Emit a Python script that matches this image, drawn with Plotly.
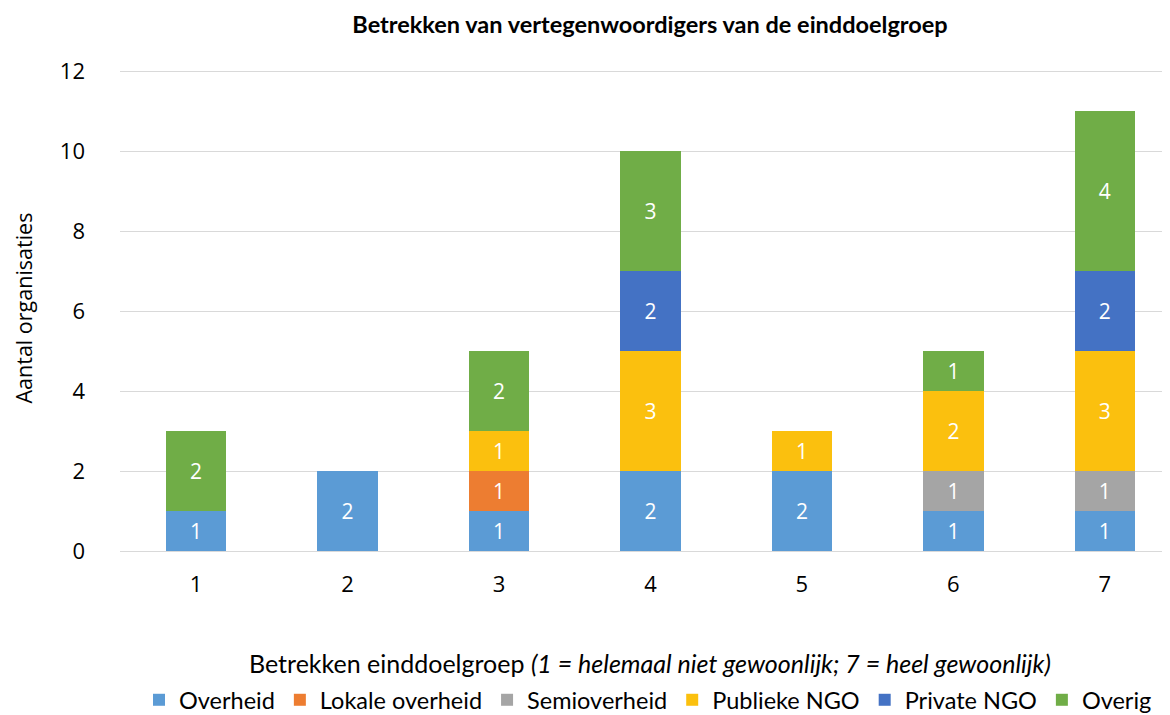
import plotly.graph_objects as go

categories = ["1", "2", "3", "4", "5", "6", "7"]
series_names = ["Overheid", "Lokale overheid", "Semioverheid", "Publieke NGO", "Private NGO", "Overig"]
overheid = [1, 2, 1, 2, 2, 1, 1]
lokale_overheid = [0, 0, 1, 0, 0, 0, 0]
semioverheid = [0, 0, 0, 0, 0, 1, 1]
publieke_ngo = [0, 0, 1, 3, 1, 2, 3]
private_ngo = [0, 0, 0, 2, 0, 0, 2]
overig = [2, 0, 2, 3, 0, 1, 4]
y_ticks = [0, 2, 4, 6, 8, 10, 12]

colors = ["#5B9BD5", "#ED7D31", "#A5A5A5", "#FBC00E", "#4472C4", "#70AD47"]
all_series = [overheid, lokale_overheid, semioverheid, publieke_ngo, private_ngo, overig]

NARROW = "Lato"
TICK = "Open Sans"

# page body has an 8px margin; work in reference pixel coordinates minus offset
OFF = 8
W, H = 1170 - OFF, 715 - OFF
L = 120 - OFF
T = 69 - OFF
B = H - (551 - OFF)
R = 0
pw = W - L - R
ph = H - T - B


def px_x(x):
    return (x - OFF - L) / pw


def px_y(y):
    return ((551 - OFF) - (y - OFF)) / ph


fig = go.Figure()
for name, vals, col in zip(series_names, all_series, colors):
    yv = [v if v else None for v in vals]
    fig.add_trace(go.Bar(
        x=categories, y=yv, name=name, marker=dict(color=col, line=dict(width=0)),
        text=[str(v) if v else "" for v in vals], textposition="inside",
        insidetextanchor="middle", textangle=0,
        textfont=dict(color="white", size=21, family=TICK),
        cliponaxis=False,
    ))

fig.update_layout(
    width=W, height=H, barmode="stack", bargap=0.6,
    plot_bgcolor="white", paper_bgcolor="white",
    margin=dict(l=L, r=R, t=T, b=B, autoexpand=False),
    font=dict(family=TICK, color="#000000", size=22),
    title=dict(text="<b>Betrekken van vertegenwoordigers van de einddoelgroep</b>",
               x=px_x(650), xref="paper", xanchor="center",
               y=1 - (25 - OFF) / H, yref="container", yanchor="middle",
               font=dict(family=NARROW, size=23.5, color="#000000")),
    xaxis=dict(type="category", range=[-0.5017, 6.43], showgrid=False, showline=False,
               ticks="", tickfont=dict(family=TICK, size=22, color="#000000"), ticklabelstandoff=18),
    yaxis=dict(range=[0, 12.05], tickvals=y_ticks, showgrid=True, gridcolor="#D9D9D9",
               gridwidth=1.3, zeroline=True, zerolinecolor="#D9D9D9", zerolinewidth=1.3,
               showline=False, ticks="", tickfont=dict(family=TICK, size=22, color="#000000"),
               ticklabelstandoff=34),
    legend=dict(orientation="h", x=px_x(648), xanchor="center", y=(715 - 700) / H, yref="container",
                yanchor="middle", font=dict(family=NARROW, size=23.5, color="#000000"),
                traceorder="normal", itemwidth=30, tracegroupgap=0),
    showlegend=True,
)

fig.add_annotation(
    text="Betrekken einddoelgroep <i>(1 = helemaal niet gewoonlijk; 7 = heel gewoonlijk)</i>",
    xref="paper", yref="paper", x=px_x(650), y=px_y(663),
    xanchor="center", yanchor="middle", showarrow=False,
    font=dict(family=NARROW, size=25, color="#000000"),
)
fig.add_annotation(
    text="Aantal organisaties", textangle=-90,
    xref="paper", yref="paper", x=px_x(OFF), y=px_y(308),
    xanchor="left", yanchor="middle", showarrow=False, xshift=-2,
    font=dict(family=TICK, size=21.5, color="#000000"),
)

fig.write_html("out.html")
